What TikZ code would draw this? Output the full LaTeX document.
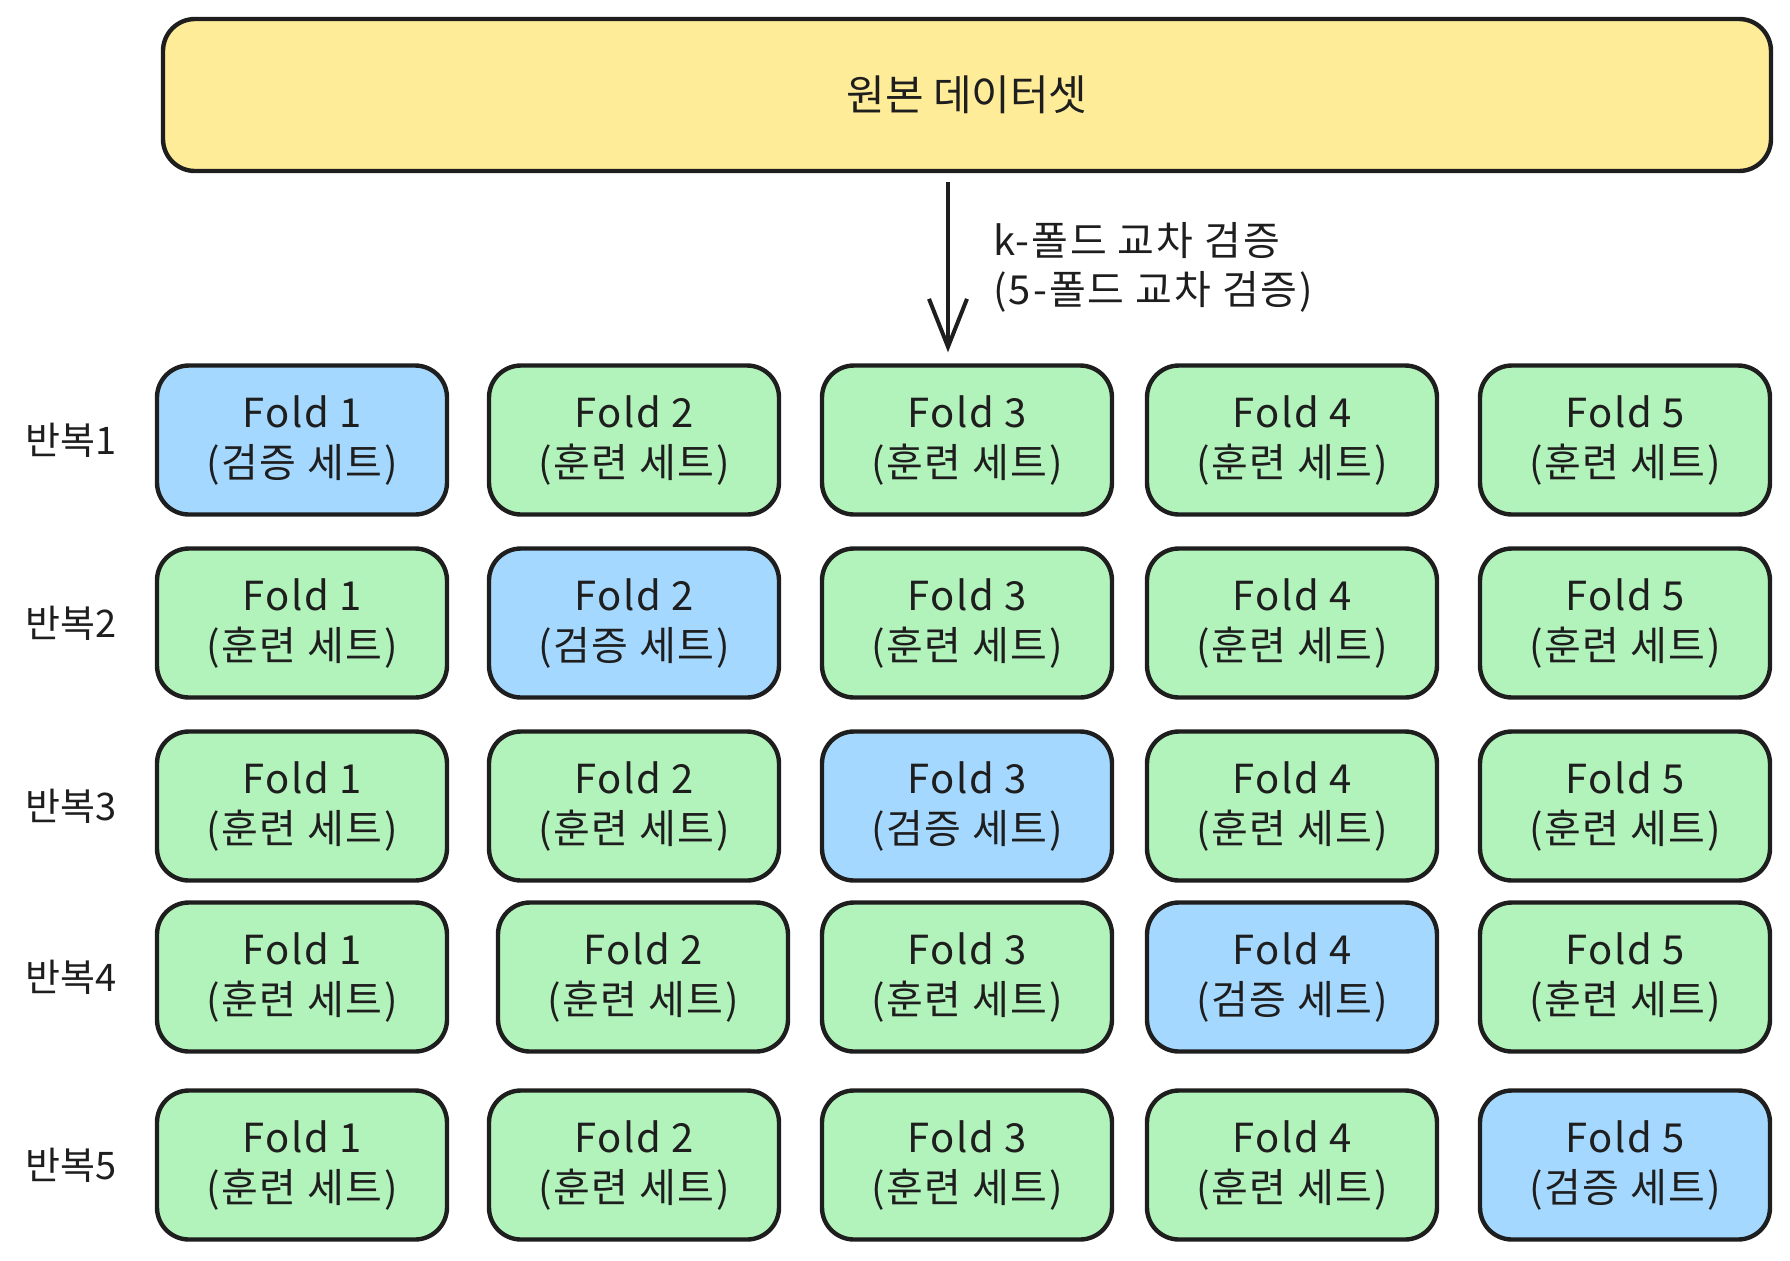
\documentclass[tikz,border=0pt]{standalone}
\usepackage{fontspec}
\setmainfont{Noto Sans CJK KR}
\usetikzlibrary{arrows.meta}
\definecolor{ink}{HTML}{1E1E1E}
\definecolor{yel}{HTML}{FFEC99}
\definecolor{blu}{HTML}{A5D8FF}
\definecolor{grn}{HTML}{B2F2BB}
\tikzset{
  box/.style={draw=ink, line width=2.2pt, rounded corners=16pt, inner sep=0pt},
  fold/.style={box, minimum width=145pt, minimum height=74.5pt, align=center,
    font=\fontsize{20}{25}\selectfont\addfontfeature{LetterSpace=4}},
  rowlab/.style={font=\fontsize{19}{22}\selectfont, text=ink},
  arr/.style={draw=ink, line width=2pt, -{Straight Barb[length=24pt,width=19pt,line width=2pt]}},
}
\begin{document}
\begin{tikzpicture}[x=0.5pt,y=-0.5pt]
\useasboundingbox (0,0) rectangle (1790,1260);
\node[box, fill=yel, minimum width=804pt, minimum height=76pt,
  font=\fontsize{21}{25}\selectfont, text=ink] (top) at (967,95) {원본 데이터셋};
\foreach \r/\y in {1/440,2/623,3/806,4/977,5/1165}{
  \node[rowlab] (lab\r) at (71,\y) {반복\r};
  \foreach \c/\x in {1/302,2/634,3/967,4/1292,5/1625}{
    \ifnum\r=\c \def\fc{blu}\def\tx{검증}\else\def\fc{grn}\def\tx{훈련}\fi
    \ifnum\r=4 \ifnum\c=2 \def\xx{643}\else\def\xx{\x}\fi\else\def\xx{\x}\fi
    \node[fold, fill=\fc, text=ink] (r\r c\c) at (\xx,\y) {Fold \c\\(\tx{} 세트)};
  }
}
\coordinate (ax) at (948,0);
\draw[arr] ([yshift=-4.5pt]top.south -| ax) -- ([yshift=5.5pt]r1c3.north -| ax);
\node[anchor=north west, align=left, inner sep=0pt, text=ink,
  font=\fontsize{20}{24.5}\selectfont\addfontfeature{LetterSpace=5}] (klab) at (993,222)
  {k-폴드 교차 검증\\(5-폴드 교차 검증)};
\end{tikzpicture}
\end{document}
